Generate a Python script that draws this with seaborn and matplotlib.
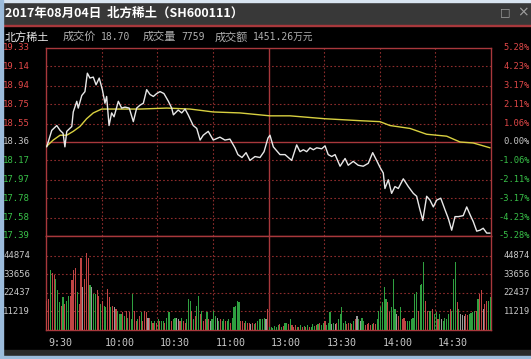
import numpy as np
import pandas as pd
import matplotlib
matplotlib.use("Agg")
import matplotlib.pyplot as plt
from matplotlib.patches import Rectangle
import seaborn as sns

sns.set_style("dark")
plt.rcParams['font.family'] = ['Noto Sans CJK SC', 'DejaVu Sans']

# ---------------- data ----------------
title = "2017年08月04日  北方稀土（SH600111）"
stock_name = "北方稀土"
info_items = [("成交价", "18.70"), ("成交量", "7759"), ("成交额", "1451.26万元")]

prev_close = 18.36
price_ticks = [19.33, 19.14, 18.94, 18.75, 18.55, 18.36, 18.17, 17.97, 17.78, 17.58, 17.39]
pct_ticks = ["5.28%", "4.23%", "3.17%", "2.11%", "1.06%", "0.00%", "-1.06%", "-2.11%", "-3.17%", "-4.23%", "-5.28%"]
vol_ticks = [11219, 22437, 33656, 44874]
time_labels = ["9:30", "10:00", "10:30", "11:00", "13:00", "13:30", "14:00", "14:30"]
time_label_minutes = [0, 30, 60, 90, 120, 150, 180, 210]

price_min = [0.4, 3.1, 5.8, 7.6, 9.2, 10.2, 11.2, 13.9, 14.7, 16.6, 17.4, 19.3, 21.0, 22.3, 23.7, 25.5,
             27.0, 28.7, 30.4, 31.8, 32.7, 34.0, 35.4, 36.7, 39.0, 40.8, 42.6, 44.9, 47.1, 48.9, 50.7,
             52.5, 54.3, 56.1, 57.9, 59.7, 61.5, 63.6, 66.0, 67.8, 68.7, 71.3, 73.2, 75.0, 76.7, 79.4,
             81.3, 83.1, 84.8, 87.5, 90.2, 93.8, 96.5, 99.2, 101.9, 103.5, 105.7, 107.9, 110.0, 112.7,
             115.4, 117.6, 119.7, 120.8, 122.6, 126.2, 128.9, 132.5, 135.2, 137.0, 138.8, 140.6, 142.4,
             144.2, 146.0, 148.7, 150.5, 152.2, 154.1, 155.9, 158.6, 161.3, 163.0, 165.7, 168.4, 171.1,
             173.8, 176.2, 178.3, 180.1, 181.9, 182.8, 184.6, 186.4, 188.2, 190.0, 192.7, 195.4, 198.1,
             199.9, 201.3, 203.2, 205.3, 207.1, 208.9, 210.7, 212.9, 215.2, 217.0, 218.8, 220.6, 222.4,
             225.0, 226.9, 228.7, 230.4, 232.3, 234.1, 235.8, 237.7, 239.5]
price_val = [18.31, 18.48, 18.53, 18.48, 18.45, 18.31, 18.47, 18.52, 18.67, 18.78, 18.71, 18.84, 18.88,
             19.07, 19.02, 19.03, 18.95, 19.02, 18.90, 18.76, 18.83, 18.53, 18.66, 18.62, 18.78, 18.71,
             18.72, 18.71, 18.57, 18.71, 18.74, 18.76, 18.90, 18.85, 18.83, 18.86, 18.88, 18.86, 18.78,
             18.71, 18.64, 18.69, 18.66, 18.70, 18.64, 18.53, 18.50, 18.38, 18.43, 18.47, 18.38, 18.41,
             18.38, 18.39, 18.30, 18.23, 18.20, 18.25, 18.17, 18.21, 18.20, 18.26, 18.40, 18.43, 18.31,
             18.23, 18.23, 18.17, 18.33, 18.26, 18.28, 18.26, 18.30, 18.28, 18.30, 18.29, 18.32, 18.23,
             18.21, 18.23, 18.11, 18.19, 18.12, 18.16, 18.12, 18.11, 18.14, 18.25, 18.17, 18.10, 18.04,
             17.88, 17.97, 17.83, 17.90, 17.88, 17.98, 17.90, 17.83, 17.80, 17.69, 17.55, 17.80, 17.76,
             17.69, 17.76, 17.78, 17.66, 17.57, 17.45, 17.59, 17.59, 17.60, 17.69, 17.61, 17.54, 17.44,
             17.45, 17.47, 17.42, 17.42]

avg_min = [0, 3.9, 7.6, 11.2, 14.7, 18.3, 21.9, 25.5, 30.0, 50.7, 65.1, 77.7, 90.2, 104.6, 120.8, 131.6,
           150.5, 169.3, 180.1, 185.5, 196.3, 205.3, 216.1, 223.3, 230.4, 239.5]
avg_val = [18.31, 18.38, 18.43, 18.43, 18.47, 18.52, 18.60, 18.66, 18.70, 18.70, 18.71, 18.70, 18.67,
           18.66, 18.63, 18.63, 18.60, 18.58, 18.57, 18.53, 18.50, 18.44, 18.42, 18.36, 18.35, 18.30]

# volume per half hour segment: (colour code, volume)
vol_seg1 = [("r", 17700), ("r", 18800), ("g", 36100), ("r", 34100), ("r", 33000), ("g", 31000), ("g", 23900),
            ("g", 16700), ("r", 14700), ("g", 19800), ("r", 15700), ("g", 17700), ("g", 20800), ("r", 20800),
            ("r", 30000), ("r", 36100), ("r", 37100), ("g", 22800), ("r", 15700), ("r", 43200), ("w", 25900),
            ("r", 31000), ("r", 46300), ("r", 43200), ("g", 26900), ("w", 25900), ("g", 21800), ("g", 21800),
            ("r", 23900), ("r", 20800), ("g", 15700)]
vol_seg2 = [("r", 17700), ("g", 14700), ("g", 13700), ("r", 24900), ("r", 19800), ("g", 13700), ("r", 14700),
            ("w", 13700), ("r", 12600), ("g", 11600), ("g", 9600), ("g", 9600), ("r", 10600), ("g", 8600),
            ("r", 11600), ("g", 7500), ("r", 10600), ("g", 6500), ("g", 21800), ("r", 11600), ("r", 5500),
            ("g", 6500), ("r", 8600), ("g", 10600), ("r", 5500), ("r", 11600), ("r", 10600), ("w", 7500),
            ("r", 7500), ("g", 5500), ("r", 4500), ("g", 5500), ("r", 4500)]
vol_seg3 = [("g", 6500), ("r", 5500), ("g", 5500), ("g", 5500), ("r", 4500), ("g", 7500), ("g", 10600),
            ("g", 10600), ("r", 5500), ("g", 6500), ("g", 7500), ("w", 7500), ("w", 6500), ("r", 5500),
            ("g", 7500), ("r", 5500), ("r", 4500), ("g", 6500), ("g", 18800), ("g", 17700), ("r", 11600),
            ("g", 6500), ("r", 8600), ("g", 14700), ("g", 20800), ("r", 9600), ("g", 11600), ("r", 5500),
            ("r", 6500), ("g", 10600), ("r", 6500), ("w", 5500), ("g", 6500)]
vol_seg4 = [("g", 11600), ("g", 8600), ("w", 7500), ("g", 5500), ("r", 6500), ("g", 5500), ("g", 6500),
            ("r", 5500), ("g", 5500), ("g", 6500), ("r", 4500), ("g", 7500), ("g", 13700), ("g", 14700),
            ("g", 17700), ("g", 16700), ("r", 5500), ("r", 5500), ("r", 4500), ("g", 5500), ("r", 4500),
            ("r", 4500), ("w", 3500), ("r", 4500), ("g", 3500), ("r", 4500), ("g", 5500), ("g", 6500),
            ("g", 6500), ("g", 6900), ("g", 7500), ("w", 6500), ("r", 12600)]
vol_seg5 = [("g", 2000), ("g", 2000), ("g", 1400), ("g", 2400), ("g", 2000), ("g", 2900), ("r", 3500),
            ("g", 2000), ("r", 2400), ("g", 4500), ("g", 4500), ("r", 3500), ("g", 6500), ("r", 2900),
            ("r", 2000), ("r", 2900), ("g", 2000), ("r", 2000), ("g", 2900), ("r", 2000), ("g", 2400),
            ("r", 2000), ("g", 2900), ("r", 2000), ("g", 2000), ("g", 3500), ("g", 2400), ("r", 2900),
            ("g", 3500), ("r", 4500), ("g", 2900), ("g", 4500)]
vol_seg6 = [("r", 5500), ("g", 2900), ("g", 4500), ("g", 10600), ("w", 3500), ("g", 4500), ("w", 3500),
            ("r", 4500), ("g", 6500), ("g", 9600), ("g", 13700), ("g", 4500), ("g", 5500), ("r", 3500),
            ("r", 4500), ("g", 4500), ("r", 3500), ("g", 5500), ("r", 6500), ("w", 8200), ("g", 6500),
            ("w", 5500), ("g", 7500), ("g", 5500), ("r", 2900), ("r", 3500), ("r", 4100), ("r", 2900),
            ("g", 3500), ("r", 4500), ("r", 3500), ("g", 6500), ("g", 11600)]
vol_seg7 = [("g", 13700), ("g", 16700), ("g", 25900), ("g", 18800), ("r", 16700), ("r", 10600), ("g", 13700),
            ("g", 31000), ("g", 12600), ("w", 9600), ("r", 8600), ("g", 13700), ("r", 6500), ("r", 7500),
            ("r", 5500), ("g", 5500), ("g", 5500), ("g", 6500), ("g", 7500), ("g", 21800), ("g", 22800),
            ("r", 11600), ("g", 26900), ("g", 27900), ("g", 41200), ("r", 17700), ("r", 11600), ("g", 11600),
            ("g", 11600), ("r", 12600), ("g", 9600)]
vol_seg8 = [("g", 10600), ("r", 6500), ("g", 9600), ("w", 6500), ("g", 5500), ("g", 7500), ("g", 6500),
            ("g", 9600), ("r", 12600), ("g", 11600), ("g", 31000), ("g", 41200), ("r", 16700), ("g", 12600),
            ("w", 9600), ("w", 9000), ("w", 8600), ("r", 9600), ("r", 9000), ("g", 9600), ("g", 10200),
            ("g", 10600), ("g", 11600), ("r", 11600), ("g", 18800), ("r", 21800), ("r", 23900), ("w", 12600),
            ("r", 15700), ("r", 17700), ("g", 17700), ("g", 19800)]
vol_segments = [vol_seg1, vol_seg2, vol_seg3, vol_seg4, vol_seg5, vol_seg6, vol_seg7, vol_seg8]

# ---------------- styling ----------------
W, H = 531, 359
BG = "#000000"
FRAME = "#a8383c"
GRID = "#8c2c2c"
RED = "#e04848"
GREEN = "#38c048"
GREYTXT = "#c8c8c8"
BAR_COL = {"r": "#c04444", "g": "#2fa040", "w": "#9a9a9a"}
MONO = ['DejaVu Sans Mono']

fig = plt.figure(figsize=(W / 100, H / 100), dpi=100, facecolor=BG)

def fx(px):
    return px / W

def fy(py):
    return 1 - py / H

# window chrome
fig.patches.append(Rectangle((0, fy(25)), 1, 25 / H, transform=fig.transFigure, color="#383838", zorder=0))
fig.patches.append(Rectangle((0, fy(2)), 1, 2 / H, transform=fig.transFigure, color="#d8e4f0", zorder=1))
fig.patches.append(Rectangle((0, fy(26)), 1, 1.2 / H, transform=fig.transFigure, color=FRAME, zorder=1))
fig.patches.append(Rectangle((0, 0), 1, fy(350), transform=fig.transFigure, color="#2a2a2a", zorder=0))
fig.patches.append(Rectangle((0, 0), 1, 3 / H, transform=fig.transFigure, color="#9cbcdc", zorder=1))
fig.patches.append(Rectangle((0, 0), 2.5 / W, 1, transform=fig.transFigure, color="#9cbcdc", zorder=1))

fig.text(fx(5), fy(13), title, color="white", fontsize=9, fontweight="bold", va="center", ha="left",
         family=['Noto Sans CJK SC', 'DejaVu Sans'])
fig.text(fx(505), fy(12), "□", color="#a0a0a0", fontsize=8, va="center", ha="center",
         family=['DejaVu Sans'])
fig.text(fx(523), fy(12), "×", color="#a0a0a0", fontsize=10, va="center", ha="center",
         family=['DejaVu Sans'])

fig.text(fx(5), fy(37), stock_name, color="#e8e8e8", fontsize=8, va="center", ha="left")
info_x = [63, 143, 215]
for (lab, val), x0 in zip(info_items, info_x):
    fig.text(fx(x0), fy(37), lab, color="#b0b0b0", fontsize=8, va="center", ha="left")
    fig.text(fx(x0 + 38), fy(37), val, color="#b0b0b0", fontsize=7, va="center", ha="left",
             family=['DejaVu Sans Mono', 'Noto Sans CJK SC'])

# axes
L, R = 46, 491
ax = fig.add_axes([fx(L), fy(236), (R - L) / W, 188 / H], facecolor=BG)
axv = fig.add_axes([fx(L), fy(330), (R - L) / W, 94 / H], facecolor=BG)

for a in (ax, axv):
    a.set_xlim(0, 240)
    a.set_xticks([])
    a.set_yticks([])
    a.grid(False)
    for s in a.spines.values():
        s.set_color(FRAME)
        s.set_linewidth(1.0)
        s.set_visible(True)
    for m in [30, 60, 90, 150, 180, 210]:
        a.axvline(m, color=GRID, lw=0.8, ls=(0, (1.5, 2)), zorder=1)
    a.axvline(120, color=FRAME, lw=1.0, zorder=1)

ax.set_ylim(price_ticks[-1], price_ticks[0])
for p in price_ticks[1:-1]:
    if p == prev_close:
        ax.axhline(p, color=FRAME, lw=1.0, zorder=1)
    else:
        ax.axhline(p, color=GRID, lw=0.8, ls=(0, (1.5, 2)), zorder=1)

price_df = pd.DataFrame({"minute": price_min, "price": price_val})
avg_df = pd.DataFrame({"minute": avg_min, "price": avg_val})
sns.lineplot(data=avg_df, x="minute", y="price", ax=ax, color="#d8d040", lw=1.0, zorder=3)
sns.lineplot(data=price_df, x="minute", y="price", ax=ax, color="#e8e8e8", lw=1.0, zorder=4)
ax.set_xlabel("")
ax.set_ylabel("")

ytr = ax.get_yaxis_transform()
for p, pct in zip(price_ticks, pct_ticks):
    col = RED if p > prev_close else (GREYTXT if p == prev_close else GREEN)
    ax.text((30 - L) / (R - L), p, f"{p:.2f}", transform=ytr, color=col, fontsize=6.5,
            ha="right", va="center", family=MONO, clip_on=False)
    ax.text((530 - L) / (R - L), p, pct, transform=ytr, color=col, fontsize=6.3,
            ha="right", va="center", family=MONO, clip_on=False)

# volume bars
bx, bh, bc = [], [], []
for k, seg in enumerate(vol_segments):
    n = len(seg)
    for j, (c, v) in enumerate(seg):
        bx.append(k * 30 + (j + 0.5) * 30 / n)
        bh.append(v)
        bc.append(BAR_COL[c])
axv.bar(bx, bh, width=0.6, color=bc, linewidth=0, zorder=3)
axv.set_ylim(0, 56700)
for v in vol_ticks:
    axv.axhline(v, color=GRID, lw=0.8, ls=(0, (1.5, 2)), zorder=1)
vtr = axv.get_yaxis_transform()
for v in vol_ticks:
    axv.text((30 - L) / (R - L), v, str(v), transform=vtr, color=GREYTXT, fontsize=6.5,
             ha="right", va="center", family=MONO, clip_on=False)
    axv.text((530 - L) / (R - L), v, str(v), transform=vtr, color=GREYTXT, fontsize=6.3,
             ha="right", va="center", family=MONO, clip_on=False)

xtr = axv.get_xaxis_transform()
for m, lab in zip(time_label_minutes, time_labels):
    axv.text(m + 1.5, (330 - 343) / 94, lab, transform=xtr, color=GREYTXT, fontsize=7.2,
             ha="left", va="center", family=MONO, clip_on=False)

fig.savefig("out.png", dpi=100, facecolor=BG)
